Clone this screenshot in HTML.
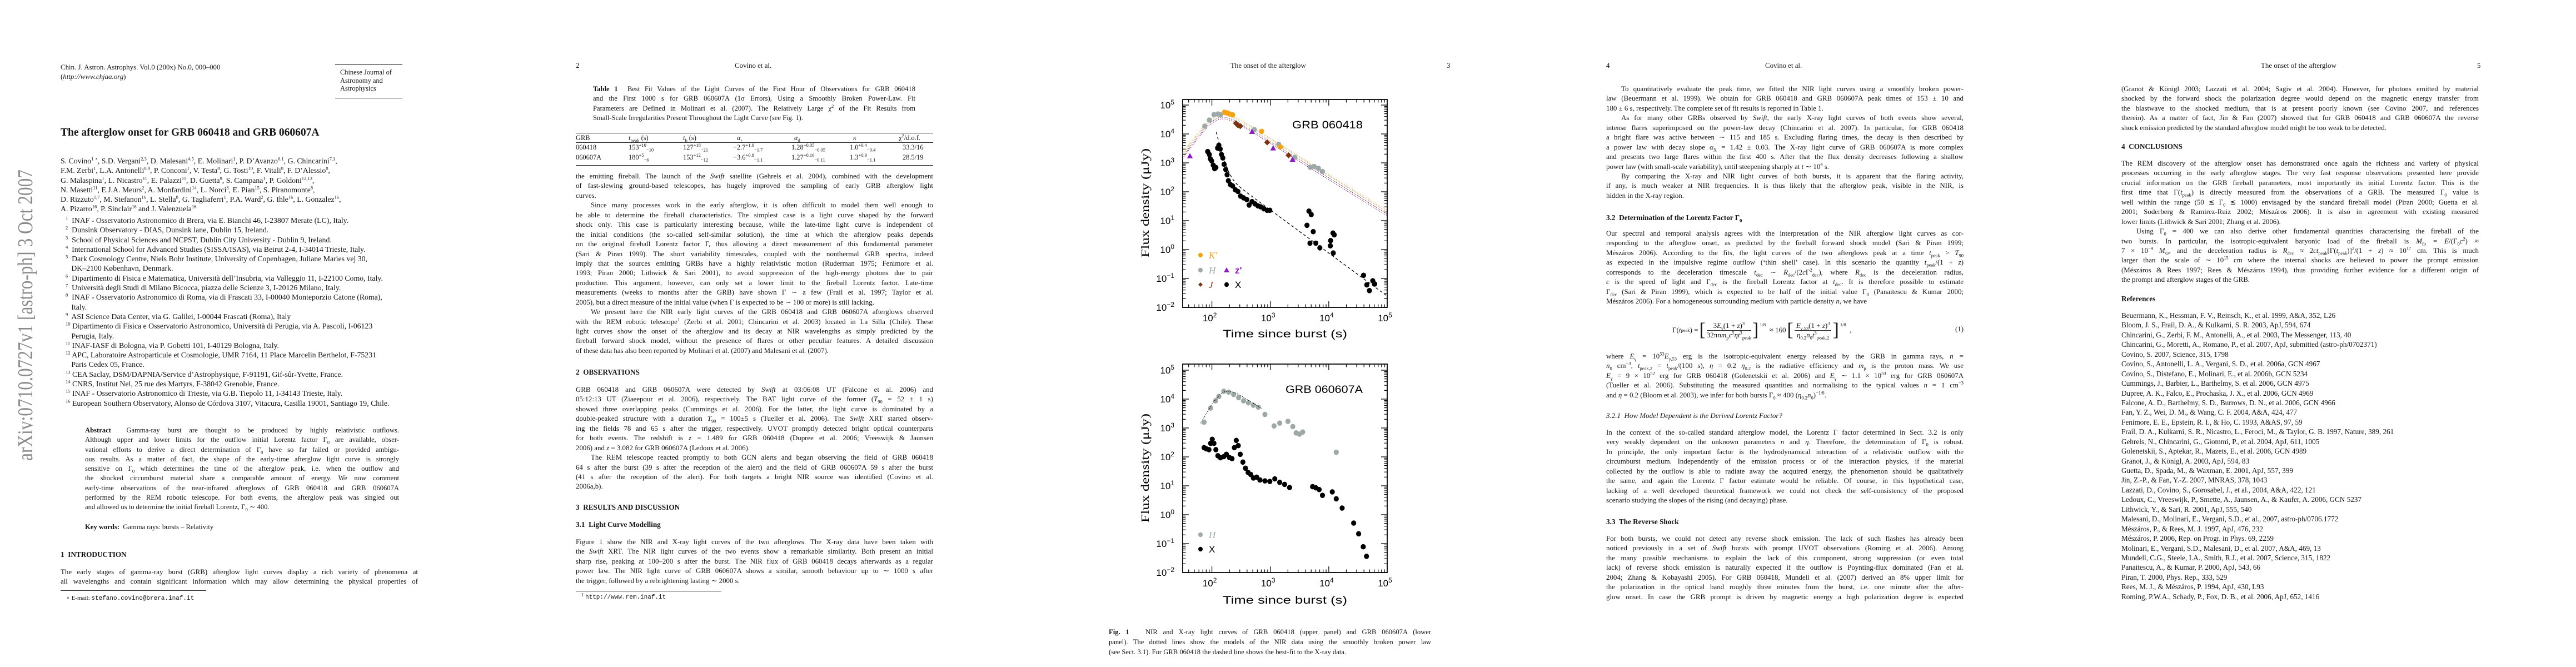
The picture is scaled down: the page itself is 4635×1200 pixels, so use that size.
<!DOCTYPE html>
<html><head><meta charset="utf-8">
<style>
html,body{margin:0;padding:0;background:#fff;}
body{width:4635px;height:1200px;position:relative;overflow:hidden;font-family:"Liberation Serif",serif;color:#141414;}
.pg{position:absolute;top:0;width:927px;height:1200px;}
.blk{position:absolute;left:109px;width:643px;font-size:12.9px;line-height:17.45px;}
.blk>div{white-space:nowrap;text-align:justify;text-align-last:justify;height:17.45px;}
.blk>div.e{text-align-last:left;}
.blk>div.i{padding-left:27px;}
.p1>div{height:17.3px;line-height:17.3px;}
sup,sub{font-size:8.5px;line-height:0;}
.hd{position:absolute;font-size:12.9px;white-space:nowrap;}
.h2{position:absolute;left:109px;font-weight:bold;font-size:13.2px;white-space:nowrap;}
.h3{position:absolute;left:109px;font-style:italic;font-size:13px;white-space:nowrap;}
.rule{position:absolute;background:#222;height:1.3px;}
.tc{position:absolute;font-size:12.4px;white-space:nowrap;}
</style></head>
<body>

<!-- PAGE 1 -->
<div class="pg" style="left:0">
<svg style="position:absolute;left:0;top:0" width="90" height="1200">
<text transform="translate(58,829) rotate(-90)" font-family="Liberation Serif,serif" font-size="38" fill="#8a8a8a" textLength="524" lengthAdjust="spacingAndGlyphs">arXiv:0710.0727v1  [astro-ph]  3 Oct 2007</text>
</svg>
<div class="hd" style="left:109px;top:114px">Chin. J. Astron. Astrophys. Vol.0 (200x) No.0, 000–000</div>
<div class="hd" style="left:109px;top:131px">(<i>http://www.chjaa.org</i>)</div>
<div class="rule" style="left:603px;top:116px;width:121px"></div>
<div class="hd" style="left:612px;top:123px;line-height:14.6px;font-size:12.4px">Chinese Journal of<br>Astronomy and<br>Astrophysics</div>
<div class="rule" style="left:603px;top:176px;width:121px"></div>
<div class="hd" style="left:109px;top:228px;font-size:19.5px;font-weight:bold">The afterglow onset for GRB 060418 and GRB 060607A</div>
<div class="blk p1" style="top:281px;font-size:13.8px">
<div class="e">S. Covino<sup>1 ⋆</sup>, S.D. Vergani<sup>2,3</sup>, D. Malesani<sup>4,5</sup>, E. Molinari<sup>1</sup>, P. D’Avanzo<sup>6,1</sup>, G. Chincarini<sup>7,1</sup>,</div>
<div class="e">F.M. Zerbi<sup>1</sup>, L.A. Antonelli<sup>8,9</sup>, P. Conconi<sup>1</sup>, V. Testa<sup>8</sup>, G. Tosti<sup>10</sup>, F. Vitali<sup>8</sup>, F. D’Alessio<sup>8</sup>,</div>
<div class="e">G. Malaspina<sup>1</sup>, L. Nicastro<sup>11</sup>, E. Palazzi<sup>11</sup>, D. Guetta<sup>8</sup>, S. Campana<sup>1</sup>, P. Goldoni<sup>12,13</sup>,</div>
<div class="e">N. Masetti<sup>11</sup>, E.J.A. Meurs<sup>2</sup>, A. Monfardini<sup>14</sup>, L. Norci<sup>3</sup>, E. Pian<sup>15</sup>, S. Piranomonte<sup>8</sup>,</div>
<div class="e">D. Rizzuto<sup>1,7</sup>, M. Stefanon<sup>16</sup>, L. Stella<sup>8</sup>, G. Tagliaferri<sup>1</sup>, P.A. Ward<sup>2</sup>, G. Ihle<sup>16</sup>, L. Gonzalez<sup>16</sup>,</div>
<div class="e">A. Pizarro<sup>16</sup>, P. Sinclair<sup>16</sup> and J. Valenzuela<sup>16</sup></div>
</div>
<div class="blk p1" style="top:388px;left:118px;width:640px;font-size:13.8px">
<div class="e"><sup>1</sup>&nbsp; INAF - Osservatorio Astronomico di Brera, via E. Bianchi 46, I-23807 Merate (LC), Italy.</div>
<div class="e"><sup>2</sup>&nbsp; Dunsink Observatory - DIAS, Dunsink lane, Dublin 15, Ireland.</div>
<div class="e"><sup>3</sup>&nbsp; School of Physical Sciences and NCPST, Dublin City University - Dublin 9, Ireland.</div>
<div class="e"><sup>4</sup>&nbsp; International School for Advanced Studies (SISSA/ISAS), via Beirut 2-4, I-34014 Trieste, Italy.</div>
<div class="e"><sup>5</sup>&nbsp; Dark Cosmology Centre, Niels Bohr Institute, University of Copenhagen, Juliane Maries vej 30,</div>
<div class="e">&nbsp;&nbsp;&nbsp;DK–2100 København, Denmark.</div>
<div class="e"><sup>6</sup>&nbsp; Dipartimento di Fisica e Matematica, Università dell’Insubria, via Valleggio 11, I-22100 Como, Italy.</div>
<div class="e"><sup>7</sup>&nbsp; Università degli Studi di Milano Bicocca, piazza delle Scienze 3, I-20126 Milano, Italy.</div>
<div class="e"><sup>8</sup>&nbsp; INAF - Osservatorio Astronomico di Roma, via di Frascati 33, I-00040 Monteporzio Catone (Roma),</div>
<div class="e">&nbsp;&nbsp;&nbsp;Italy.</div>
<div class="e"><sup>9</sup>&nbsp; ASI Science Data Center, via G. Galilei, I-00044 Frascati (Roma), Italy</div>
<div class="e"><sup>10</sup> Dipartimento di Fisica e Osservatorio Astronomico, Università di Perugia, via A. Pascoli, I-06123</div>
<div class="e">&nbsp;&nbsp;&nbsp;Perugia, Italy.</div>
<div class="e"><sup>11</sup> INAF-IASF di Bologna, via P. Gobetti 101, I-40129 Bologna, Italy.</div>
<div class="e"><sup>12</sup> APC, Laboratoire Astroparticule et Cosmologie, UMR 7164, 11 Place Marcelin Berthelot, F-75231</div>
<div class="e">&nbsp;&nbsp;&nbsp;Paris Cedex 05, France.</div>
<div class="e"><sup>13</sup> CEA Saclay, DSM/DAPNIA/Service d’Astrophysique, F-91191, Gif-sûr-Yvette, France.</div>
<div class="e"><sup>14</sup> CNRS, Institut Nel, 25 rue des Martyrs, F-38042 Grenoble, France.</div>
<div class="e"><sup>15</sup> INAF - Osservatorio Astronomico di Trieste, via G.B. Tiepolo 11, I-34143 Trieste, Italy.</div>
<div class="e"><sup>16</sup> European Southern Observatory, Alonso de Córdova 3107, Vitacura, Casilla 19001, Santiago 19, Chile.</div>
</div>
<div class="blk p1" style="top:766px;left:153px;width:565px;font-size:12.6px">
<div><b>Abstract</b>&nbsp; Gamma-ray burst are thought to be produced by highly relativistic outflows.</div>
<div>Although upper and lower limits for the outflow initial Lorentz factor Γ<sub>0</sub> are available, obser-</div>
<div>vational efforts to derive a direct determination of Γ<sub>0</sub> have so far failed or provided ambigu-</div>
<div>ous results. As a matter of fact, the shape of the early-time afterglow light curve is strongly</div>
<div>sensitive on Γ<sub>0</sub> which determines the time of the afterglow peak, i.e. when the outflow and</div>
<div>the shocked circumburst material share a comparable amount of energy. We now comment</div>
<div>early-time observations of the near-infrared afterglows of GRB 060418 and GRB 060607A</div>
<div>performed by the REM robotic telescope. For both events, the afterglow peak was singled out</div>
<div class="e">and allowed us to determine the initial fireball Lorentz, Γ<sub>0</sub> ∼ 400.</div>
</div>
<div class="hd" style="left:153px;top:941px;font-size:12.6px"><b>Key words:</b>&nbsp; Gamma rays: bursts – Relativity</div>
<div class="h2" style="top:990px">1&nbsp; INTRODUCTION</div>
<div class="blk p1" style="top:1021px">
<div>The early stages of gamma-ray burst (GRB) afterglow light curves display a rich variety of phenomena at</div>
<div>all wavelengths and contain significant information which may allow determining the physical properties of</div>
</div>
<div class="rule" style="left:109px;top:1062px;width:262px;height:1px"></div>
<div class="hd" style="left:119px;top:1069px;font-size:11px">⋆ E-mail: <span style="font-family:'Liberation Mono',monospace">stefano.covino@brera.inaf.it</span></div>
</div>

<!-- PAGE 2 -->
<div class="pg" style="left:927px">
<div class="hd" style="left:109px;top:111px">2</div>
<div class="hd" style="left:395px;top:111px">Covino et al.</div>
<div class="blk" style="top:152px;left:140px;width:580px;font-size:12.6px">
<div><b>Table 1</b>&nbsp; Best Fit Values of the Light Curves of the First Hour of Observations for GRB 060418</div>
<div>and the First 1000 s for GRB 060607A (1σ Errors), Using a Smoothly Broken Power-Law. Fit</div>
<div>Parameters are Defined in Molinari et al. (2007). The Relatively Large χ<sup>2</sup> of the Fit Results from</div>
<div class="e">Small-Scale Irregularities Present Throughout the Light Curve (see Fig. 1).</div>
</div>
<div class="rule" style="left:109px;top:239px;width:643px"></div>
<div class="rule" style="left:109px;top:256px;width:643px;height:1px"></div>
<div class="rule" style="left:109px;top:297px;width:643px"></div>
<div>
<div class="tc" style="left:109px;top:241px">GRB</div>
<div class="tc" style="left:204px;top:241px"><i>t</i><sub>peak</sub> (s)</div>
<div class="tc" style="left:302px;top:241px"><i>t</i><sub>b</sub> (s)</div>
<div class="tc" style="left:399px;top:241px"><i>α</i><sub>r</sub></div>
<div class="tc" style="left:502px;top:241px"><i>α</i><sub>d</sub></div>
<div class="tc" style="left:608px;top:241px"><i>κ</i></div>
<div class="tc" style="left:690px;top:241px">χ<sup>2</sup>/d.o.f.</div>
<div class="tc" style="left:109px;top:258px">060418</div>
<div class="tc" style="left:204px;top:258px">153<sup>+10</sup><sub>−10</sub></div>
<div class="tc" style="left:302px;top:258px">127<sup>+18</sup><sub>−21</sub></div>
<div class="tc" style="left:392px;top:258px">−2.7<sup>+1.0</sup><sub>−1.7</sub></div>
<div class="tc" style="left:497px;top:258px">1.28<sup>+0.05</sup><sub>−0.05</sub></div>
<div class="tc" style="left:602px;top:258px">1.0<sup>+0.4</sup><sub>−0.4</sub></div>
<div class="tc" style="left:697px;top:258px">33.3/16</div>
<div class="tc" style="left:109px;top:276px">060607A</div>
<div class="tc" style="left:204px;top:276px">180<sup>+5</sup><sub>−6</sub></div>
<div class="tc" style="left:302px;top:276px">153<sup>+12</sup><sub>−12</sub></div>
<div class="tc" style="left:392px;top:276px">−3.6<sup>+0.8</sup><sub>−1.1</sub></div>
<div class="tc" style="left:497px;top:276px">1.27<sup>+0.16</sup><sub>−0.11</sub></div>
<div class="tc" style="left:602px;top:276px">1.3<sup>+0.9</sup><sub>−1.1</sub></div>
<div class="tc" style="left:697px;top:276px">28.5/19</div>
</div>
<div class="blk" style="top:309px">
<div>the emitting fireball. The launch of the <i>Swift</i> satellite (Gehrels et al. 2004), combined with the development</div>
<div>of fast-slewing ground-based telescopes, has hugely improved the sampling of early GRB afterglow light</div>
<div class="e">curves.</div>
<div class="i">Since many processes work in the early afterglow, it is often difficult to model them well enough to</div>
<div>be able to determine the fireball characteristics. The simplest case is a light curve shaped by the forward</div>
<div>shock only. This case is particularly interesting because, while the late-time light curve is independent of</div>
<div>the initial conditions (the so-called self-similar solution), the time at which the afterglow peaks depends</div>
<div>on the original fireball Lorentz factor Γ, thus allowing a direct measurement of this fundamental parameter</div>
<div>(Sari &amp; Piran 1999). The short variability timescales, coupled with the nonthermal GRB spectra, indeed</div>
<div>imply that the sources emitting GRBs have a highly relativistic motion (Ruderman 1975; Fenimore et al.</div>
<div>1993; Piran 2000; Lithwick &amp; Sari 2001), to avoid suppression of the high-energy photons due to pair</div>
<div>production. This argument, however, can only set a lower limit to the fireball Lorentz factor. Late-time</div>
<div>measurements (weeks to months after the GRB) have shown Γ ∼ a few (Frail et al. 1997; Taylor et al.</div>
<div class="e">2005), but a direct measure of the initial value (when Γ is expected to be ∼ 100 or more) is still lacking.</div>
<div class="i">We present here the NIR early light curves of the GRB 060418 and GRB 060607A afterglows observed</div>
<div>with the REM robotic telescope<sup>1</sup> (Zerbi et al. 2001; Chincarini et al. 2003) located in La Silla (Chile). These</div>
<div>light curves show the onset of the afterglow and its decay at NIR wavelengths as simply predicted by the</div>
<div>fireball forward shock model, without the presence of flares or other peculiar features. A detailed discussion</div>
<div class="e">of these data has also been reported by Molinari et al. (2007) and Malesani et al. (2007).</div>
</div>
<div class="h2" style="top:662px">2&nbsp; OBSERVATIONS</div>
<div class="blk" style="top:693px">
<div>GRB 060418 and GRB 060607A were detected by <i>Swift</i> at 03:06:08 UT (Falcone et al. 2006) and</div>
<div>05:12:13 UT (Ziaeepour et al. 2006), respectively. The BAT light curve of the former (<i>T</i><sub>90</sub> = 52 ± 1 s)</div>
<div>showed three overlapping peaks (Cummings et al. 2006). For the latter, the light curve is dominated by a</div>
<div>double-peaked structure with a duration <i>T</i><sub>90</sub> = 100±5 s (Tueller et al. 2006). The <i>Swift</i> XRT started observ-</div>
<div>ing the fields 78 and 65 s after the trigger, respectively. UVOT promptly detected bright optical counterparts</div>
<div>for both events. The redshift is <i>z</i> = 1.489 for GRB 060418 (Dupree et al. 2006; Vreeswijk &amp; Jaunsen</div>
<div class="e">2006) and <i>z</i> = 3.082 for GRB 060607A (Ledoux et al. 2006).</div>
<div class="i">The REM telescope reacted promptly to both GCN alerts and began observing the field of GRB 060418</div>
<div>64 s after the burst (39 s after the reception of the alert) and the field of GRB 060607A 59 s after the burst</div>
<div>(41 s after the reception of the alert). For both targets a bright NIR source was identified (Covino et al.</div>
<div class="e">2006a,b).</div>
</div>
<div class="h2" style="top:905px">3&nbsp; RESULTS AND DISCUSSION</div>
<div class="h2" style="top:936px">3.1&nbsp; Light Curve Modelling</div>
<div class="blk" style="top:967px">
<div>Figure 1 show the NIR and X-ray light curves of the two afterglows. The X-ray data have been taken with</div>
<div>the <i>Swift</i> XRT. The NIR light curves of the two events show a remarkable similarity. Both present an initial</div>
<div>sharp rise, peaking at 100–200 s after the burst. The NIR flux of GRB 060418 decays afterwards as a regular</div>
<div>power law. The NIR light curve of GRB 060607A shows a similar, smooth behaviour up to ∼ 1000 s after</div>
<div class="e">the trigger, followed by a rebrightening lasting ∼ 2000 s.</div>
</div>
<div class="rule" style="left:109px;top:1063px;width:262px;height:1px"></div>
<div class="hd" style="left:119px;top:1068px;font-size:11px"><sup>1</sup> <span style="font-family:'Liberation Mono',monospace">http://www.rem.inaf.it</span></div>
</div>

<!-- PAGE 3 -->
<div class="pg" style="left:1854px">
<div class="hd" style="left:360px;top:111px">The onset of the afterglow</div>
<div class="hd" style="left:749px;top:111px">3</div>
<svg id="fig" style="position:absolute;left:0;top:0" width="927" height="1200"></svg>
<div class="blk" style="top:1128px;left:141px;width:580px;font-size:12.6px;line-height:18px">
<div style="height:18px"><b>Fig. 1</b>&nbsp;&nbsp; NIR and X-ray light curves of GRB 060418 (upper panel) and GRB 060607A (lower</div>
<div style="height:18px">panel). The dotted lines show the models of the NIR data using the smoothly broken power law</div>
<div class="e" style="height:18px">(see Sect. 3.1). For GRB 060418 the dashed line shows the best-fit to the X-ray data.</div>
</div>
</div>

<!-- PAGE 4 -->
<div class="pg" style="left:2781px">
<div class="hd" style="left:109px;top:111px">4</div>
<div class="hd" style="left:395px;top:111px">Covino et al.</div>
<div class="blk" style="top:152px">
<div class="i">To quantitatively evaluate the peak time, we fitted the NIR light curves using a smoothly broken power-</div>
<div>law (Beuermann et al. 1999). We obtain for GRB 060418 and GRB 060607A peak times of 153 ± 10 and</div>
<div class="e">180 ± 6 s, respectively. The complete set of fit results is reported in Table 1.</div>
<div class="i">As for many other GRBs observed by <i>Swift</i>, the early X-ray light curves of both events show several,</div>
<div>intense flares superimposed on the power-law decay (Chincarini et al. 2007). In particular, for GRB 060418</div>
<div>a bright flare was active between ∼ 115 and 185 s. Excluding flaring times, the decay is then described by</div>
<div>a power law with decay slope <i>α</i><sub>X</sub> = 1.42 ± 0.03. The X-ray light curve of GRB 060607A is more complex</div>
<div>and presents two large flares within the first 400 s. After that the flux density decreases following a shallow</div>
<div class="e">power law (with small-scale variability), until steepening sharply at <i>t</i> ∼ 10<sup>4</sup> s.</div>
<div class="i">By comparing the X-ray and NIR light curves of both bursts, it is apparent that the flaring activity,</div>
<div>if any, is much weaker at NIR frequencies. It is thus likely that the afterglow peak, visible in the NIR, is</div>
<div class="e">hidden in the X-ray region.</div>
</div>
<div class="h2" style="top:384px">3.2&nbsp; Determination of the Lorentz Factor Γ<sub>0</sub></div>
<div class="blk" style="top:412px">
<div>Our spectral and temporal analysis agrees with the interpretation of the NIR afterglow light curves as cor-</div>
<div>responding to the afterglow onset, as predicted by the fireball forward shock model (Sari &amp; Piran 1999;</div>
<div>Mészáros 2006). According to the fits, the light curves of the two afterglows peak at a time <i>t</i><sub>peak</sub> &gt; <i>T</i><sub>90</sub></div>
<div>as expected in the impulsive regime outflow (‘thin shell’ case). In this scenario the quantity <i>t</i><sub>peak</sub>/(1 + <i>z</i>)</div>
<div>corresponds to the deceleration timescale <i>t</i><sub>dec</sub> ∼ <i>R</i><sub>dec</sub>/(2<i>c</i>Γ<sup>2</sup><sub>dec</sub>), where <i>R</i><sub>dec</sub> is the deceleration radius,</div>
<div><i>c</i> is the speed of light and Γ<sub>dec</sub> is the fireball Lorentz factor at <i>t</i><sub>dec</sub>. It is therefore possible to estimate</div>
<div>Γ<sub>dec</sub> (Sari &amp; Piran 1999), which is expected to be half of the initial value Γ<sub>0</sub> (Panaitescu &amp; Kumar 2000;</div>
<div class="e">Mészáros 2006). For a homogeneous surrounding medium with particle density <i>n</i>, we have</div>
</div>
<div style="position:absolute;left:228px;top:572px;height:44px;font-size:13px;white-space:nowrap;display:flex;align-items:center">
Γ(<i>t</i><sub>peak</sub>) = <span style="font-size:34px;font-weight:100;margin:0 2px">[</span>
<span style="display:inline-block;text-align:center"><span style="display:block;border-bottom:1px solid #222;padding:0 3px">3<i>E</i><sub>γ</sub>(1 + <i>z</i>)<sup>3</sup></span><span style="display:block">32π<i>nm</i><sub>p</sub><i>c</i><sup>5</sup><i>ηt</i><sup>3</sup><sub>peak</sub></span></span>
<span style="font-size:34px;font-weight:100;margin:0 2px">]</span><sup style="position:relative;top:-10px">1/8</sup>&nbsp; ≈ 160 <span style="font-size:34px;font-weight:100;margin:0 2px">[</span>
<span style="display:inline-block;text-align:center"><span style="display:block;border-bottom:1px solid #222;padding:0 3px"><i>E</i><sub>γ,53</sub>(1 + <i>z</i>)<sup>3</sup></span><span style="display:block"><i>η</i><sub>0.2</sub><i>n</i><sub>0</sub><i>t</i><sup>3</sup><sub>peak,2</sub></span></span>
<span style="font-size:34px;font-weight:100;margin:0 2px">]</span><sup style="position:relative;top:-10px">1/8</sup>&nbsp;&nbsp;,</div>
<div class="hd" style="left:737px;top:585px">(1)</div>
<div class="blk" style="top:633px">
<div>where <i>E</i><sub>γ</sub> = 10<sup>53</sup><i>E</i><sub>γ,53</sub> erg is the isotropic-equivalent energy released by the GRB in gamma rays, <i>n</i> =</div>
<div><i>n</i><sub>0</sub> cm<sup>−3</sup>, <i>t</i><sub>peak,2</sub> = <i>t</i><sub>peak</sub>/(100 s), <i>η</i> = 0.2 <i>η</i><sub>0.2</sub> is the radiative efficiency and <i>m</i><sub>p</sub> is the proton mass. We use</div>
<div><i>E</i><sub>γ</sub> = 9 × 10<sup>52</sup> erg for GRB 060418 (Golenetskii et al. 2006) and <i>E</i><sub>γ</sub> ∼ 1.1 × 10<sup>53</sup> erg for GRB 060607A</div>
<div>(Tueller et al. 2006). Substituting the measured quantities and normalising to the typical values <i>n</i> = 1 cm<sup>−3</sup></div>
<div class="e">and <i>η</i> = 0.2 (Bloom et al. 2003), we infer for both bursts Γ<sub>0</sub> ≈ 400 (<i>η</i><sub>0.2</sub><i>n</i><sub>0</sub>)<sup>−1/8</sup>.</div>
</div>
<div class="h3" style="top:740px">3.2.1&nbsp; How Model Dependent is the Derived Lorentz Factor?</div>
<div class="blk" style="top:770px">
<div>In the context of the so-called standard afterglow model, the Lorentz Γ factor determined in Sect. 3.2 is only</div>
<div>very weakly dependent on the unknown parameters <i>n</i> and <i>η</i>. Therefore, the determination of Γ<sub>0</sub> is robust.</div>
<div>In principle, the only important factor is the hydrodynamical interaction of a relativistic outflow with the</div>
<div>circumburst medium. Independently of the emission process or of the interaction physics, if the material</div>
<div>collected by the outflow is able to radiate away the acquired energy, the phenomenon should be qualitatively</div>
<div>the same, and again the Lorentz Γ factor estimate would be reliable. Of course, in this hypothetical case,</div>
<div>lacking of a well developed theoretical framework we could not check the self-consistency of the proposed</div>
<div class="e">scenario studying the slopes of the rising (and decaying) phase.</div>
</div>
<div class="h2" style="top:931px">3.3&nbsp; The Reverse Shock</div>
<div class="blk" style="top:961px">
<div>For both bursts, we could not detect any reverse shock emission. The lack of such flashes has already been</div>
<div>noticed previously in a set of <i>Swift</i> bursts with prompt UVOT observations (Roming et al. 2006). Among</div>
<div>the many possible mechanisms to explain the lack of this component, strong suppression (or even total</div>
<div>lack) of reverse shock emission is naturally expected if the outflow is Poynting-flux dominated (Fan et al.</div>
<div>2004; Zhang &amp; Kobayashi 2005). For GRB 060418, Mundell et al. (2007) derived an 8% upper limit for</div>
<div>the polarization in the optical band roughly three minutes from the burst, i.e. one minute after the after-</div>
<div>glow onset. In case the GRB prompt is driven by magnetic energy a high polarization degree is expected</div>
</div>
</div>

<!-- PAGE 5 -->
<div class="pg" style="left:3708px">
<div class="hd" style="left:360px;top:111px">The onset of the afterglow</div>
<div class="hd" style="left:749px;top:111px">5</div>
<div class="blk" style="top:152px">
<div>(Granot &amp; Königl 2003; Lazzati et al. 2004; Sagiv et al. 2004). However, for photons emitted by material</div>
<div>shocked by the forward shock the polarization degree would depend on the magnetic energy transfer from</div>
<div>the blastwave to the shocked medium, that is at present poorly known (see Covino 2007, and references</div>
<div>therein). As a matter of fact, Jin &amp; Fan (2007) showed that for GRB 060418 and GRB 060607A the reverse</div>
<div class="e">shock emission predicted by the standard afterglow model might be too weak to be detected.</div>
</div>
<div class="h2" style="top:256px">4&nbsp; CONCLUSIONS</div>
<div class="blk" style="top:286px">
<div>The REM discovery of the afterglow onset has demonstrated once again the richness and variety of physical</div>
<div>processes occurring in the early afterglow stages. The very fast response observations presented here provide</div>
<div>crucial information on the GRB fireball parameters, most importantly its initial Lorentz factor. This is the</div>
<div>first time that Γ(<i>t</i><sub>peak</sub>) is directly measured from the observations of a GRB. The measured Γ<sub>0</sub> value is</div>
<div>well within the range (50 ≲ Γ<sub>0</sub> ≲ 1000) envisaged by the standard fireball model (Piran 2000; Guetta et al.</div>
<div>2001; Soderberg &amp; Ramirez-Ruiz 2002; Mészáros 2006). It is also in agreement with existing measured</div>
<div class="e">lower limits (Lithwick &amp; Sari 2001; Zhang et al. 2006).</div>
<div class="i">Using Γ<sub>0</sub> = 400 we can also derive other fundamental quantities characterising the fireball of the</div>
<div>two bursts. In particular, the isotropic-equivalent baryonic load of the fireball is <i>M</i><sub>fb</sub> = <i>E</i>/(Γ<sub>0</sub><i>c</i><sup>2</sup>) ≈</div>
<div>7 × 10<sup>−4</sup> <i>M</i><sub>⊙</sub>, and the deceleration radius is <i>R</i><sub>dec</sub> ≈ 2<i>ct</i><sub>peak</sub>[Γ(<i>t</i><sub>peak</sub>)]<sup>2</sup>/(1 + <i>z</i>) ≈ 10<sup>17</sup> cm. This is much</div>
<div>larger than the scale of ∼ 10<sup>15</sup> cm where the internal shocks are believed to power the prompt emission</div>
<div>(Mészáros &amp; Rees 1997; Rees &amp; Mészáros 1994), thus providing further evidence for a different origin of</div>
<div class="e">the prompt and afterglow stages of the GRB.</div>
</div>
<div class="h2" style="top:530px">References</div>
<div class="blk" style="top:559px;font-size:13.2px">
<div class="e">Beuermann, K., Hessman, F. V., Reinsch, K., et al. 1999, A&amp;A, 352, L26</div>
<div class="e">Bloom, J. S., Frail, D. A., &amp; Kulkarni, S. R. 2003, ApJ, 594, 674</div>
<div class="e">Chincarini, G., Zerbi, F. M., Antonelli, A., et al. 2003, The Messenger, 113, 40</div>
<div class="e">Chincarini, G., Moretti, A., Romano, P., et al. 2007, ApJ, submitted (astro-ph/0702371)</div>
<div class="e">Covino, S. 2007, Science, 315, 1798</div>
<div class="e">Covino, S., Antonelli, L. A., Vergani, S. D., et al. 2006a, GCN 4967</div>
<div class="e">Covino, S., Distefano, E., Molinari, E., et al. 2006b, GCN 5234</div>
<div class="e">Cummings, J., Barbier, L., Barthelmy, S. et al. 2006, GCN 4975</div>
<div class="e">Dupree, A. K., Falco, E., Prochaska, J. X., et al. 2006, GCN 4969</div>
<div class="e">Falcone, A. D., Barthelmy, S. D., Burrows, D. N., et al. 2006, GCN 4966</div>
<div class="e">Fan, Y. Z., Wei, D. M., &amp; Wang, C. F. 2004, A&amp;A, 424, 477</div>
<div class="e">Fenimore, E. E., Epstein, R. I., &amp; Ho, C. 1993, A&amp;AS, 97, 59</div>
<div class="e">Frail, D. A., Kulkarni, S. R., Nicastro, L., Feroci, M., &amp; Taylor, G. B. 1997, Nature, 389, 261</div>
<div class="e">Gehrels, N., Chincarini, G., Giommi, P., et al. 2004, ApJ, 611, 1005</div>
<div class="e">Golenetskii, S., Aptekar, R., Mazets, E., et al. 2006, GCN 4989</div>
<div class="e">Granot, J., &amp; Königl, A. 2003, ApJ, 594, 83</div>
<div class="e">Guetta, D., Spada, M., &amp; Waxman, E. 2001, ApJ, 557, 399</div>
<div class="e">Jin, Z.-P., &amp; Fan, Y.-Z. 2007, MNRAS, 378, 1043</div>
<div class="e">Lazzati, D., Covino, S., Gorosabel, J., et al., 2004, A&amp;A, 422, 121</div>
<div class="e">Ledoux, C., Vreeswijk, P., Smette, A., Jaunsen, A., &amp; Kaufer, A. 2006, GCN 5237</div>
<div class="e">Lithwick, Y., &amp; Sari, R. 2001, ApJ, 555, 540</div>
<div class="e">Malesani, D., Molinari, E., Vergani, S.D., et al., 2007, astro-ph/0706.1772</div>
<div class="e">Mészáros, P., &amp; Rees, M. J. 1997, ApJ, 476, 232</div>
<div class="e">Mészáros, P. 2006, Rep. on Progr. in Phys. 69, 2259</div>
<div class="e">Molinari, E., Vergani, S.D., Malesani, D., et al. 2007, A&amp;A, 469, 13</div>
<div class="e">Mundell, C.G., Steele, I.A., Smith, R.J., et al. 2007, Science, 315, 1822</div>
<div class="e">Panaitescu, A., &amp; Kumar, P. 2000, ApJ, 543, 66</div>
<div class="e">Piran, T. 2000, Phys. Rep., 333, 529</div>
<div class="e">Rees, M. J., &amp; Mészáros, P. 1994, ApJ, 430, L93</div>
<div class="e">Roming, P.W.A., Schady, P., Fox, D. B., et al. 2006, ApJ, 652, 1416</div>
</div>
</div>

<script>
// ---- Data (log10 time [s], log10 flux [uJy]) ----
const k418LogT = [2.215, 2.260, 2.305, 2.355, 2.851, 3.171];
const k418LogF = [4.75, 4.73, 4.69, 4.66, 4.09, 3.55];
const h418LogT = [1.877, 1.956, 2.035, 2.102, 2.147, 2.727, 3.143, 3.419, 3.683, 3.751, 3.824, 3.892];
const h418LogF = [4.27, 4.48, 4.67, 4.69, 4.66, 4.15, 3.64, 3.19, 2.85, 2.87, 2.81, 2.70];
const j418LogT = [2.412, 2.445, 2.485, 2.946, 3.312];
const j418LogF = [4.37, 4.30, 4.27, 3.71, 3.26];
const z418LogT = [1.624, 2.687, 3.048, 3.380];
const z418LogF = [3.24, 4.08, 3.51, 3.12];
const x418LogT = [1.928,1.956,1.973,1.995,2.023,2.046,2.068,2.097,2.119,2.142,2.164,2.187,2.209,2.237,2.260,2.282,2.316,2.355,2.400,2.445,2.490,2.541,2.597,2.637,2.687,2.738,2.789,2.834,2.890,2.946,2.991,3.627,3.661,3.700,3.734,3.678,3.779,3.847,4.027,4.032,4.072,4.094,4.077,4.595,4.651,4.696,4.753,4.786];
const x418LogF = [3.39,3.29,3.14,3.07,2.92,2.80,2.84,3.51,3.61,3.48,3.29,3.17,2.95,2.77,2.59,2.38,2.25,2.20,2.07,2.01,1.85,1.79,1.73,1.54,1.66,1.58,1.51,1.48,1.41,1.36,1.36,0.84,1.33,1.21,0.62,0.22,0.22,0.06,0.13,0.31,0.57,0.51,-0.12,-0.89,-1.22,-1.42,-1.08,-1.19];
const h607LogT = [1.866,1.978,2.063,2.119,2.203,2.288,2.372,2.457,2.541,2.625,2.710,2.794,2.907,3.064,3.160,3.301,3.385,3.441,3.498,3.554,4.128];
const h607LogF = [3.20,3.69,3.94,4.09,4.27,4.24,4.16,4.05,3.94,3.87,3.79,3.72,3.47,3.07,3.17,3.23,3.05,2.83,2.79,2.86,2.16];
const x607LogT = [1.866,1.905,1.950,1.978,2.006,2.035,2.068,2.102,2.147,2.203,2.248,2.299,2.344,2.384,2.417,2.451,2.485,2.530,2.575,2.620,2.665,2.710,2.766,2.822,2.907,2.991,3.076,3.160,3.244,3.329,3.723,3.779,3.835,3.892,4.060,4.128,4.229,4.426,4.511,4.590,4.646];
const x607LogF = [2.32,2.28,2.25,2.47,2.61,2.47,2.25,2.04,1.97,2.01,2.09,1.98,1.94,2.32,2.57,2.39,2.09,1.82,1.61,1.46,1.39,1.27,1.30,1.20,1.17,1.15,1.24,1.12,1.05,0.94,0.97,0.93,0.87,0.67,0.79,0.55,0.23,-0.29,-0.66,-1.11,-1.44];
// model parameters (smoothly broken power law)
const modelBands = ['K', 'H', 'J', 'z'];
const modelLogFb = [4.67, 4.62, 4.55, 4.49];
const modelTb = [127, 127, 127, 127];
const model607 = [4.22, 153, -3.6, 1.27];
const xFit418 = [4.64, -8, 2.86, -1.49];
const xTicks = [2, 3, 4, 5];
const yTicks = [-2, -1, 0, 1, 2, 3, 4, 5];

const NS = 'http://www.w3.org/2000/svg';
const svg = document.getElementById('fig');
const X0 = 274, X1 = 642, LT0 = 1.5, LT1 = 5;
function sx(l) { return X0 + (l - LT0) / (LT1 - LT0) * (X1 - X0); }
function mk(tag, attrs, parent) {
  const e = document.createElementNS(NS, tag);
  for (const k in attrs) e.setAttribute(k, attrs[k]);
  (parent || svg).appendChild(e);
  return e;
}
const COL = {K: '#f6a313', H: '#9ea8a6', J: '#7b3410', z: '#8b1cc4', X: '#000'};

function sbpl(lt, logFb, tb, ar, ad) {
  const r = Math.pow(10, lt) / tb;
  return logFb + Math.log10(2) - Math.log10(Math.pow(r, ar) + Math.pow(r, ad));
}

function drawPanel(P, name) {
  const g = mk('g', {});
  
  
  P.g = g;
  P.sy = l => P.ym2 - (l + 2) / 7 * (P.ym2 - P.y5);
  const fr = mk('rect', {x: X0, y: P.top, width: X1 - X0, height: P.bot - P.top, fill: 'none', stroke: '#000', 'stroke-width': 1.8}, g);
  
  
  let d = '';
  for (let dec = 1; dec <= 4; dec++) {
    for (let k = 1; k <= 9; k++) {
      const l = dec + Math.log10(k);
      if (l < LT0 || l > LT1) continue;
      const len = k === 1 ? 11 : 5.5;
      const x = sx(l);
      d += `M${x},${P.bot}v${-len}M${x},${P.top}v${len}`;
    }
  }
  for (let dec = -2; dec <= 5; dec++) {
    for (let k = 1; k <= 9; k++) {
      const l = dec + Math.log10(k);
      const y = P.sy(l);
      if (y < P.top || y > P.bot + 0.5) continue;
      const len = k === 1 ? 11 : 5.5;
      d += `M${X0},${y}h${len}M${X1},${y}h${-len}`;
    }
  }
  const tk = mk('path', {d: d, stroke: '#000', 'stroke-width': 1.2, fill: 'none'}, g);
  
  
  yTicks.forEach(v => {
    const t = mk('text', {x: 259, y: P.sy(v) + 6, 'text-anchor': 'end', 'font-family': 'Liberation Sans,sans-serif', 'font-size': 17}, g);
    
    
    t.innerHTML = '10<tspan dy="-7" font-size="12">' + (v < 0 ? '−' + (-v) : v) + '</tspan>';
  });
  xTicks.forEach(v => {
    const t = mk('text', {x: sx(v) - 4, y: P.xl, 'text-anchor': 'middle', 'font-family': 'Liberation Sans,sans-serif', 'font-size': 17}, g);
    
    
    t.innerHTML = '10<tspan dy="-7" font-size="12">' + v + '</tspan>';
  });
  const xt = mk('text', {x: 346, y: P.xt, 'font-family': 'Liberation Sans,sans-serif', 'font-size': 19, textLength: 224, lengthAdjust: 'spacingAndGlyphs'}, g);
  xt.textContent = 'Time since burst (s)';
  
  
  const yt = mk('text', {transform: `translate(213,${P.yc + 98}) rotate(-90)`, 'font-family': 'Liberation Serif,serif', 'font-size': 20, textLength: 196, lengthAdjust: 'spacingAndGlyphs'}, g);
  yt.textContent = 'Flux density (μJy)';
  
  
  const gl = mk('text', {x: P.gx, y: P.gy, 'font-family': 'Liberation Sans,sans-serif', 'font-size': 19, textLength: P.gw, lengthAdjust: 'spacingAndGlyphs'}, g);
  gl.textContent = P.label;
  
  
}

function marker(P, shape, color, lt, lf, r) {
  const x = sx(lt), y = P.sy(lf);
  let e;
  if (shape === 'tri') e = mk('path', {d: `M${x},${y - r - 1}L${x + r + 1},${y + r}L${x - r - 1},${y + r}Z`, fill: color}, P.g);
  else if (shape === 'dia') e = mk('path', {d: `M${x},${y - r}L${x + r},${y}L${x},${y + r}L${x - r},${y}Z`, fill: color}, P.g);
  else e = mk('ellipse', {cx: x, cy: y, rx: r, ry: r * 1.05, fill: color}, P.g);
  return e;
}

function series(P, lts, lfs, shape, color, name, r) {
  lts.forEach((lt, i) => {
    const e = marker(P, shape, color, lt, lfs[i], r);
    
    
  });
}

function curve(P, fn, l0, l1, color, dash, name, w) {
  let d = '';
  for (let i = 0; i <= 200; i++) {
    const l = l0 + (l1 - l0) * i / 200;
    d += (i ? 'L' : 'M') + sx(l).toFixed(1) + ',' + P.sy(fn(l)).toFixed(1);
  }
  const e = mk('path', {d: d, fill: 'none', stroke: color, 'stroke-width': w || 1.3, 'stroke-dasharray': dash}, P.g);
  
  
}

function legend(P, x, y, shape, color, label, italic) {
  const m = marker({g: P.g, sy: v => v}, shape, color, 0, 0, 4);
  m.setAttribute('transform', `translate(${x - sx(0)},${y})`);
  
  
  const t = mk('text', {x: x + 15, y: y + 6, fill: color, 'font-family': italic ? 'Liberation Serif,serif' : 'Liberation Sans,sans-serif', 'font-size': 17, 'font-style': italic ? 'italic' : 'normal', 'font-weight': label === "z'" ? 'bold' : 'normal'}, P.g);
  t.textContent = label;
  
  
}

const P1 = {top: 179, bot: 553, y5: 189, ym2: 553, xl: 578, xt: 607, yc: 365, label: 'GRB 060418', gx: 471, gy: 231, gw: 127};
drawPanel(P1, 'panel-grb-060418');
modelBands.forEach((b, i) => {
  curve(P1, l => sbpl(l, modelLogFb[i], modelTb[i], -2.7, 1.25), 1.5, 5, COL[b], '1.2 2.2', 'model-' + b, 1.3);
});
series(P1, x418LogT, x418LogF, 'circ', COL.X, 'xray-point-060418', 4.6);
curve(P1, l => Math.log10(Math.pow(10, xFit418[0] + xFit418[1] * (l - 2)) + Math.pow(10, xFit418[2] + xFit418[3] * (l - 2))), 2.074, 4.98, '#000', '5 4', 'xray-fit-dashed', 1.3);
series(P1, h418LogT, h418LogF, 'circ', COL.H, 'h-band-point-060418', 4.6);
series(P1, k418LogT, k418LogF, 'circ', COL.K, 'k-band-point', 4.6);
series(P1, j418LogT, j418LogF, 'dia', COL.J, 'j-band-point', 5.5);
series(P1, z418LogT, z418LogF, 'tri', COL.z, 'z-band-point', 4.2);
legend(P1, 306, 459, 'circ', COL.K, "K'", true);
legend(P1, 306, 486, 'circ', COL.H, 'H', true);
legend(P1, 353, 486, 'tri', COL.z, "z'", false);
legend(P1, 306, 512, 'dia', COL.J, 'J', true);
legend(P1, 353, 512, 'circ', COL.X, 'X', false);

const P2 = {top: 655, bot: 1030, y5: 666, ym2: 1030, xl: 1055, xt: 1086, yc: 842, label: 'GRB 060607A', gx: 459, gy: 707, gw: 139};
drawPanel(P2, 'panel-grb-060607a');
series(P2, x607LogT, x607LogF, 'circ', COL.X, 'xray-point-060607a', 4.6);
series(P2, h607LogT, h607LogF, 'circ', COL.H, 'h-band-point-060607a', 4.6);
curve(P2, l => sbpl(l, model607[0], model607[1], model607[2], model607[3]), 1.81, 2.85, '#000', '1.2 2.2', 'model-h-060607a', 1.3);
legend(P2, 306, 962, 'circ', COL.H, 'H', true);
legend(P2, 306, 988, 'circ', COL.X, 'X', false);
</script>
</body></html>
